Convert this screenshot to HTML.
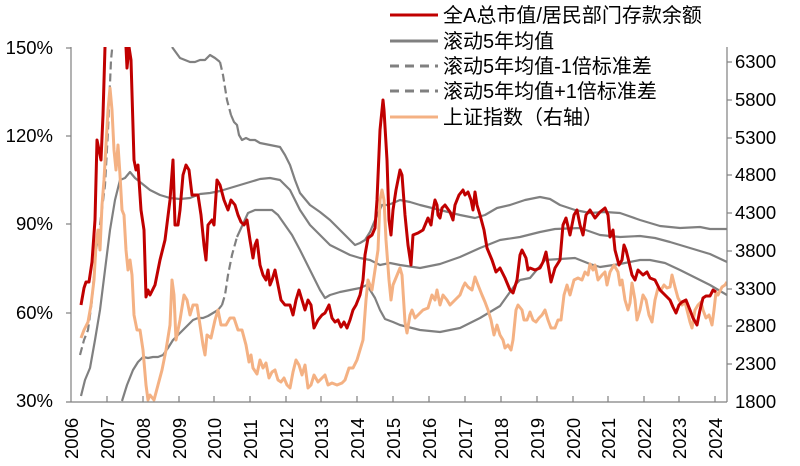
<!DOCTYPE html>
<html><head><meta charset="utf-8"><style>
html,body{margin:0;padding:0;background:#fff;}
svg{display:block;font-family:"Liberation Sans","Noto Sans CJK SC",sans-serif;}
</style></head><body>
<svg width="800" height="466" viewBox="0 0 800 466" xmlns="http://www.w3.org/2000/svg">
<defs><clipPath id="c"><rect x="71" y="47" width="656" height="355"/></clipPath></defs>
<g fill="none" stroke-linejoin="round" clip-path="url(#c)">
<polyline stroke="#808080" stroke-width="2.2" points="81,396 85,380 90,368 95,340 100,310 105,270 110,230 115,200 120,180 125,178 130,172 135,178 140,182 150,190 160,195 170,198 180,199 190,198 200,194 210,193 220,191 230,188 240,185 250,182 260,179 270,178 280,180 290,190 300,210 310,225 320,235 330,245 340,250 350,255 360,258 370,260 380,265 390,263 400,265 420,268 440,264 460,257 480,248 500,240 520,237 540,232 555,229 580,228 600,235 620,237 640,236 655,238 670,242 690,248 710,254 727,262"/>
<polyline stroke="#808080" stroke-width="2.2" stroke-dasharray="8,4" points="80,355 84,340 88,330 92,300 96,250 100,225 105,185 108,130 111,60 113,40"/>
<polyline stroke="#808080" stroke-width="2.2" points="172,47 180,58 185,60 190,62 195,62 200,60 205,60 210,55 215,58 220,62"/>
<polyline stroke="#808080" stroke-width="2.2" stroke-dasharray="8,4" points="220,62 223,75 227,100 231,115"/>
<polyline stroke="#808080" stroke-width="2.2" points="231,115 234,122 237,125 239,135 242,140 246,138 250,140 255,140 260,143 270,145 280,147 285,155 290,165 295,180 300,193 310,205 320,212 330,220 340,230 350,240 355,245 360,243 365,240 370,232 375,220 382,205 388,205 393,203 400,200 410,202 420,205 440,210 460,215 475,218 485,215 497,208 510,205 525,200 540,197 550,199 560,205 575,210 590,213 605,212 620,213 640,220 660,226 680,228 700,227 710,229 727,229"/>
<polyline stroke="#808080" stroke-width="2.2" points="122,401 127,385 133,370 138,362 143,357 148,358 153,357 158,357 163,355 168,348 173,340 178,335 183,330 188,325 193,320 198,318 203,318 208,316 213,313 218,310 222,305"/>
<polyline stroke="#808080" stroke-width="2.2" stroke-dasharray="8,4" points="222,305 225,295 228,275 232,255 237,237"/>
<polyline stroke="#808080" stroke-width="2.2" points="237,237 243,224 248,213 255,210 265,210 272,210 278,215 285,225 292,235 300,250 310,270 320,290 325,298 330,295 340,292 350,290 360,288 367,285 375,298 380,310 385,319 393,322 400,325 420,330 440,332 460,328 480,318 500,306 510,292 515,285 520,280 530,278 545,260 560,259 575,258 590,264 600,267 620,264 640,260 650,260 665,263 680,270 700,280 710,285 727,295"/>
<polyline stroke="#f4b183" stroke-width="3" points="81,338 84,330 88,322 91,305 94,280 96,245 98,230 100,250 102,205 104,180 106,145 108,110 110,88 112,110 114,150 116,170 118,145 120,175 122,210 124,215 126,250 128,270 130,260 132,275 134,315 137,330 140,330 143,350 146,385 148,400 150,395 154,400 158,385 162,370 166,350 170,325 172,280 174,295 176,340 180,320 184,295 187,300 190,315 193,305 197,305 200,325 203,345 205,355 207,335 211,338 215,320 218,310 221,325 226,325 230,318 234,318 238,330 242,330 246,345 249,362 251,355 253,368 257,374 260,360 263,368 266,363 269,378 272,372 275,370 278,380 281,382 284,378 287,385 290,388 293,372 296,360 299,365 302,375 305,365 308,388 311,385 314,375 318,382 322,378 325,375 328,385 332,383 337,385 342,383 345,380 349,368 353,368 357,360 360,350 363,340 366,300 368,280 372,290 375,270 378,250 380,200 382,190 384,200 386,240 389,280 391,300 393,285 400,268 402,275 405,322 407,333 410,315 412,310 415,318 418,315 423,310 428,308 432,295 435,300 437,290 440,305 443,295 447,300 450,305 455,300 460,295 463,287 465,283 468,287 472,290 475,277 478,285 482,295 485,302 488,310 491,320 494,335 497,325 500,335 503,340 505,348 508,345 511,350 513,340 516,310 518,305 522,310 524,320 527,320 530,312 533,320 536,322 539,318 542,315 545,310 548,320 551,328 555,328 558,320 561,320 564,295 567,285 570,295 574,280 578,278 582,280 585,272 588,275 590,264 593,270 595,265 598,280 602,275 605,272 607,285 610,272 614,265 618,272 620,285 622,280 625,300 628,310 630,303 632,283 635,300 637,320 640,310 643,295 646,300 649,315 652,322 655,300 658,288 661,290 664,285 667,288 670,287 672,275 675,287 678,298 682,305 685,302 687,310 690,322 692,328 695,310 698,305 701,302 703,310 706,318 709,315 712,325 714,310 716,292 718,295 722,287 725,285 727,282"/>
<polyline stroke="#c00000" stroke-width="3" points="81,305 84,288 86,282 89,282 92,262 95,220 97,140 99,150 101,160 103,115 105,47 107,20 124,20 126,47 127,68 129,47 131,60 134,160 136,170 138,165 141,210 144,230 146,297 148,290 150,295 155,285 160,260 165,240 170,200 173,160 175,225 178,225 180,210 183,175 186,165 189,170 192,195 195,195 198,195 201,215 204,245 206,260 208,225 212,220 214,225 217,180 220,185 224,200 228,210 231,200 235,205 238,215 241,222 244,225 247,220 250,240 253,258 255,245 257,240 260,265 263,275 266,280 268,270 270,285 272,280 275,270 278,285 281,300 285,305 290,305 293,315 296,300 299,290 302,300 305,310 308,300 311,305 314,328 318,320 322,315 325,313 329,305 332,318 335,322 338,320 341,327 344,322 347,328 350,320 353,310 356,305 360,295 363,280 365,255 368,238 372,235 375,228 377,200 380,130 383,100 384,110 387,160 389,220 391,235 393,210 396,190 400,170 402,175 405,215 408,245 411,265 413,235 418,233 423,230 428,218 431,225 433,210 435,200 437,205 438,215 440,218 442,208 445,205 450,212 453,220 455,205 459,195 463,190 465,195 468,192 471,200 473,210 475,192 477,205 480,215 484,230 487,248 492,260 496,272 500,268 505,278 510,290 513,293 517,280 520,255 522,250 526,258 528,270 530,268 535,270 540,268 543,262 546,252 549,270 551,282 555,268 560,260 563,225 566,218 570,235 574,215 577,210 580,225 583,235 586,215 590,210 595,218 600,212 605,208 608,215 610,237 613,230 615,250 619,265 622,260 624,245 626,250 628,258 632,275 635,280 638,270 640,272 643,275 647,272 650,278 655,280 660,290 665,295 670,300 673,307 676,313 679,305 682,302 686,300 690,310 693,318 697,325 700,310 703,298 706,296 710,296 713,290 716,292"/>
</g>
<g stroke="#808080" stroke-width="1.2" fill="none">
<line x1="71" y1="47" x2="71" y2="402"/>
<line x1="727" y1="47" x2="727" y2="402"/>
<line x1="66" y1="402" x2="727" y2="402"/>
<line x1="66" y1="48" x2="71" y2="48"/><line x1="66" y1="136" x2="71" y2="136"/><line x1="66" y1="224" x2="71" y2="224"/><line x1="66" y1="313" x2="71" y2="313"/>
<line x1="727" y1="62" x2="732" y2="62"/><line x1="727" y1="100" x2="732" y2="100"/><line x1="727" y1="138" x2="732" y2="138"/><line x1="727" y1="175" x2="732" y2="175"/><line x1="727" y1="213" x2="732" y2="213"/><line x1="727" y1="251" x2="732" y2="251"/><line x1="727" y1="289" x2="732" y2="289"/><line x1="727" y1="326" x2="732" y2="326"/><line x1="727" y1="364" x2="732" y2="364"/>
<line x1="107" y1="402" x2="107" y2="396"/><line x1="143" y1="402" x2="143" y2="396"/><line x1="179" y1="402" x2="179" y2="396"/><line x1="214" y1="402" x2="214" y2="396"/><line x1="250" y1="402" x2="250" y2="396"/><line x1="286" y1="402" x2="286" y2="396"/><line x1="321" y1="402" x2="321" y2="396"/><line x1="357" y1="402" x2="357" y2="396"/><line x1="393" y1="402" x2="393" y2="396"/><line x1="429" y1="402" x2="429" y2="396"/><line x1="465" y1="402" x2="465" y2="396"/><line x1="501" y1="402" x2="501" y2="396"/><line x1="537" y1="402" x2="537" y2="396"/><line x1="573" y1="402" x2="573" y2="396"/><line x1="608" y1="402" x2="608" y2="396"/><line x1="644" y1="402" x2="644" y2="396"/><line x1="679" y1="402" x2="679" y2="396"/><line x1="715" y1="402" x2="715" y2="396"/>
</g>
<g font-size="18.5" fill="#000" text-anchor="end">
<text x="53" y="54">150%</text><text x="53" y="142">120%</text><text x="53" y="230">90%</text><text x="53" y="319">60%</text><text x="53" y="407">30%</text>
</g>
<g font-size="18.5" fill="#000">
<text x="735" y="68">6300</text><text x="735" y="106">5800</text><text x="735" y="144">5300</text><text x="735" y="181">4800</text><text x="735" y="219">4300</text><text x="735" y="257">3800</text><text x="735" y="295">3300</text><text x="735" y="332">2800</text><text x="735" y="370">2300</text><text x="735" y="408">1800</text>
</g>
<g font-size="18.5" fill="#000">
<text transform="translate(78,459) rotate(-90)">2006</text><text transform="translate(114,459) rotate(-90)">2007</text><text transform="translate(150,459) rotate(-90)">2008</text><text transform="translate(186,459) rotate(-90)">2009</text><text transform="translate(221,459) rotate(-90)">2010</text><text transform="translate(257,459) rotate(-90)">2011</text><text transform="translate(293,459) rotate(-90)">2012</text><text transform="translate(328,459) rotate(-90)">2013</text><text transform="translate(364,459) rotate(-90)">2014</text><text transform="translate(400,459) rotate(-90)">2015</text><text transform="translate(436,459) rotate(-90)">2016</text><text transform="translate(472,459) rotate(-90)">2017</text><text transform="translate(508,459) rotate(-90)">2018</text><text transform="translate(544,459) rotate(-90)">2019</text><text transform="translate(580,459) rotate(-90)">2020</text><text transform="translate(615,459) rotate(-90)">2021</text><text transform="translate(651,459) rotate(-90)">2022</text><text transform="translate(686,459) rotate(-90)">2023</text><text transform="translate(722,459) rotate(-90)">2024</text>
</g>
<g stroke-width="3">
<line x1="390" y1="15" x2="438" y2="15" stroke="#c00000"/>
<line x1="390" y1="41" x2="438" y2="41" stroke="#808080"/>
<line x1="390" y1="66" x2="438" y2="66" stroke="#808080" stroke-dasharray="9,6"/>
<line x1="390" y1="91" x2="438" y2="91" stroke="#808080" stroke-dasharray="9,6"/>
<line x1="390" y1="117" x2="438" y2="117" stroke="#f4b183"/>
</g>
<g font-size="20" fill="#000">
<text x="443" y="22">全A总市值/居民部门存款余额</text>
<text x="443" y="48">滚动5年均值</text>
<text x="443" y="73">滚动5年均值-1倍标准差</text>
<text x="443" y="98">滚动5年均值+1倍标准差</text>
<text x="443" y="124">上证指数（右轴）</text>
</g>
</svg>
</body></html>
